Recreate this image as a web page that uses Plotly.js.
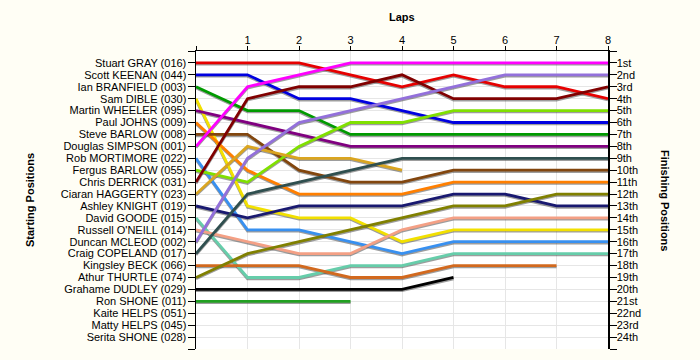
<!DOCTYPE html>
<html>
<head>
<meta charset="utf-8">
<script src="https://cdn.plot.ly/plotly-3.0.1.min.js"></script>
<style>html,body{margin:0;padding:0;background:#FFFEF5;}#chart{width:700px;height:360px;}</style>
</head>
<body>
<div id="chart"></div>
<script>
// Starting grid (row 1..24)
const drivers = [
  "Stuart GRAY (016)", "Scott KEENAN (044)", "Ian BRANFIELD (003)", "Sam DIBLE (030)",
  "Martin WHEELER (095)", "Paul JOHNS (009)", "Steve BARLOW (008)", "Douglas SIMPSON (001)",
  "Rob MORTIMORE (022)", "Fergus BARLOW (055)", "Chris DERRICK (031)", "Ciaran HAGGERTY (023)",
  "Ashley KNIGHT (019)", "David GOODE (015)", "Russell O'NEILL (014)", "Duncan MCLEOD (002)",
  "Craig COPELAND (017)", "Kingsley BECK (066)", "Athur THURTLE (074)", "Grahame DUDLEY (029)",
  "Ron SHONE (011)", "Kaite HELPS (051)", "Matty HELPS (045)", "Serita SHONE (028)"
];
const finishLabels = ["1st","2nd","3rd","4th","5th","6th","7th","8th","9th","10th","11th","12th",
  "13th","14th","15th","16th","17th","18th","19th","20th","21st","22nd","23rd","24th"];
const lapTicks = ["1","2","3","4","5","6","7","8"];
const laps = [0,1,2,3,4,5,6,7,8];

// Position at lap 0 (grid) .. last completed lap
const posGRAY     = [1,1,1,2,3,2,3,3,4];
const posKEENAN   = [2,2,4,4,5,6,6,6,6];
const posBRANFIELD= [3,5,5,7,7,7,7,7,7];
const posDIBLE    = [4,13,14,14,16,15,15,15,15];
const posWHEELER  = [5,6,7,8,8,8,8,8,8];
const posJOHNS    = [6,10,12,12,12,11,11,11,11];
const posSBARLOW  = [7,7,10,11,11,10,10,10,10];
const posSIMPSON  = [8,3,2,1,1,1,1,1,1];
const posMORTIMORE= [9,15,15,16,17,16,16,16,16];
const posFBARLOW  = [10,11,8,6,6,5,5,5,5];
const posDERRICK  = [11,4,3,3,2,4,4,4,3];
const posHAGGERTY = [12,8,9,9,10];
const posKNIGHT   = [13,14,13,13,13,12,12,13,13];
const posGOODE    = [14,19,19,18,18,17,17,17,17];
const posONEILL   = [15,16,17,17,15,14,14,14,14];
const posMCLEOD   = [16,9,6,5,4,3,2,2,2];
const posCOPELAND = [17,12,11,10,9,9,9,9,9];
const posBECK     = [18,18,18,19,19,18,18,18];
const posTHURTLE  = [19,17,16,15,14,13,13,12,12];
const posDUDLEY   = [20,20,20,20,20,19];
const posRSHONE   = [21,21,21,21];

const colors = ["#E60000","#0000E0","#009A00","#F2E000","#800080","#FF7F00","#82460E","#FF00FF",
  "#3890F0","#80E000","#800000","#DAA520","#191970","#66CDAA","#F4A085","#9370DB","#2F4F4F",
  "#D2691E","#808000","#000000","#22A022","#000000","#000000","#000000"];

const series = [posGRAY,posKEENAN,posBRANFIELD,posDIBLE,posWHEELER,posJOHNS,posSBARLOW,posSIMPSON,
  posMORTIMORE,posFBARLOW,posDERRICK,posHAGGERTY,posKNIGHT,posGOODE,posONEILL,posMCLEOD,posCOPELAND,
  posBECK,posTHURTLE,posDUDLEY,posRSHONE,[],[],[]];

const rowTicks = [];
for (let i = 0; i <= 25; i++) rowTicks.push(i);
const leftText = [""].concat(drivers).concat([""]);
const rightText = [""].concat(finishLabels).concat([""]);
const xTickVals = [0].concat(lapTicks.map(Number));
const xTickText = [""].concat(lapTicks);

// plot height in px and 1px in row units for shadow offset
const plotH = 360 - 51 - 11;
const px = 25 / plotH;

const traces = [];
// invisible anchor trace so the main (left) axis is populated
traces.push({x: laps, y: posGRAY, xaxis: "x", yaxis: "y", type: "scatter", mode: "lines",
  line: {color: "rgba(0,0,0,0)", width: 0}, hoverinfo: "skip", showlegend: false});
series.forEach((p, i) => {
  if (!p.length) return;
  traces.push({x: laps.slice(0, p.length), y: p, xaxis: "x", yaxis: "y2", type: "scatter", mode: "lines",
    line: {color: "rgba(60,60,60,0.5)", width: 2.8}, hoverinfo: "skip", showlegend: false});
});
series.forEach((p, i) => {
  if (!p.length) return;
  traces.push({x: laps.slice(0, p.length), y: p, xaxis: "x", yaxis: "y3", type: "scatter", mode: "lines",
    name: drivers[i], line: {color: colors[i], width: 2.8}, showlegend: false});
});

const font = {family: "Liberation Sans, Arial, sans-serif", size: 11, color: "#000"};
const layout = {
  width: 700, height: 360,
  margin: {l: 196, r: 92, t: 51, b: 11, pad: 0},
  paper_bgcolor: "#FFFEF5", plot_bgcolor: "#FFFFFF",
  font: font, showlegend: false,
  xaxis: {range: [0, 8], side: "top", tickvals: xTickVals, ticktext: xTickText,
    ticks: "outside", ticklen: 4, tickcolor: "#000", showline: true, linecolor: "#000", linewidth: 1.5,
    showgrid: true, gridcolor: "#E6E6E6", zeroline: false, tickfont: font, fixedrange: true,
    ticklabelstandoff: -3},
  yaxis: {range: [25, 0], tickvals: rowTicks, ticktext: leftText, ticks: "outside", ticklen: 7,
    tickcolor: "#000", showline: true, linecolor: "#000", linewidth: 1.5, showgrid: true,
    gridcolor: "#E6E6E6", zeroline: false, tickfont: font, fixedrange: true, showticklabels: true,
    ticklabelstandoff: -1},
  yaxis2: {range: [25 - 1.3 * px, -1.3 * px], overlaying: "y", visible: false, fixedrange: true},
  yaxis3: {range: [25, 0], overlaying: "y", side: "right", tickvals: rowTicks, ticktext: rightText,
    ticks: "outside", ticklen: 7, tickcolor: "#000", showline: true, linecolor: "#000", linewidth: 1.5,
    showgrid: false, zeroline: false, tickfont: font, fixedrange: true, ticklabelstandoff: -2},
  annotations: [
    {text: "<b>Laps</b>", xref: "paper", yref: "paper", x: 0.5, y: 1, xanchor: "center",
      yanchor: "middle", showarrow: false, font: font, yshift: 34},
    {text: "<b>Starting Positions</b>", xref: "paper", yref: "paper", x: 0, xshift: -166, y: 0.5,
      xanchor: "center", yanchor: "middle", textangle: -90, showarrow: false, font: font},
    {text: "<b>Finishing Positions</b>", xref: "paper", yref: "paper", x: 1, xshift: 57, y: 0.5,
      xanchor: "center", yanchor: "middle", textangle: 90, showarrow: false, font: font}
  ]
};
Plotly.newPlot("chart", traces, layout, {displayModeBar: false, staticPlot: true});
</script>
</body>
</html>
